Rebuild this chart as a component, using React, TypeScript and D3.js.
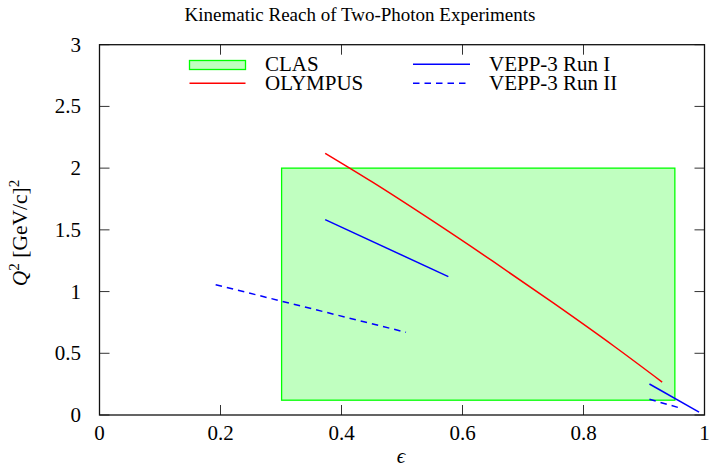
import React from "react";
import * as d3 from "d3";

const xTicks = [0, 0.2, 0.4, 0.6, 0.8, 1];
const yTicks = [0, 0.5, 1, 1.5, 2, 2.5, 3];
const yTickLabels = ["0", "0.5", "1", "1.5", "2", "2.5", "3"];
const xTickLabels = ["0", "0.2", "0.4", "0.6", "0.8", "1"];

// CLAS region: [epsMin, epsMax, q2Min, q2Max]
const clasBox = [0.301, 0.951, 0.12, 2.0];

const olympusEps = [0.373, 0.45, 0.55, 0.65, 0.75, 0.85, 0.93];
const olympusQ2 = [2.12, 1.89, 1.574, 1.246, 0.908, 0.559, 0.267];

const vepp1aEps = [0.373, 0.5766];
const vepp1aQ2 = [1.583, 1.121];
const vepp1bEps = [0.909, 0.991];
const vepp1bQ2 = [0.251, 0.024];

const vepp2aEps = [0.192, 0.5066];
const vepp2aQ2 = [1.056, 0.67];
const vepp2bEps = [0.909, 0.9595];
const vepp2bQ2 = [0.127, 0.057];

const FONT = "Liberation Serif, Times New Roman, serif";

const W = 710;
const H = 469;
const L = 99.5, R = 704.5, T = 44.7, B = 415;

export default function App() {
  const x = d3.scaleLinear().domain([0, 1]).range([L, R]);
  const y = d3.scaleLinear().domain([0, 3]).range([B, T]);
  const line = d3
    .line<[number, number]>()
    .x((d) => x(d[0]))
    .y((d) => y(d[1]));
  const smooth = d3
    .line<[number, number]>()
    .x((d) => x(d[0]))
    .y((d) => y(d[1]))
    .curve(d3.curveMonotoneX);
  const zip = (a: number[], b: number[]) => a.map((v, i) => [v, b[i]] as [number, number]);

  const tickLen = 10;
  const red = "#ff0000";
  const blue = "#0000ff";
  const dash = "6.5,5";

  return (
    <svg
      width={W}
      height={H}
      style={{ position: "absolute", left: 0, top: 0, background: "#fff", fontFamily: FONT }}
    >
      <rect x={0} y={0} width={W} height={H} fill="#fff" />
      {/* Title */}
      <text x={360} y={21} textAnchor="middle" fontSize={19} fontFamily={FONT}>
        Kinematic Reach of Two-Photon Experiments
      </text>

      {/* CLAS box */}
      <rect
        x={x(clasBox[0])}
        y={y(clasBox[3])}
        width={x(clasBox[1]) - x(clasBox[0])}
        height={y(clasBox[2]) - y(clasBox[3])}
        fill="#c0ffc0"
        stroke="#00ff00"
        strokeWidth={1.3}
      />

      {/* Lines */}
      <path d={smooth(zip(olympusEps, olympusQ2)) || ""} fill="none" stroke={red} strokeWidth={1.5} />
      <path d={line(zip(vepp1aEps, vepp1aQ2)) || ""} fill="none" stroke={blue} strokeWidth={1.5} />
      <path d={line(zip(vepp1bEps, vepp1bQ2)) || ""} fill="none" stroke={blue} strokeWidth={1.5} />
      <path d={line(zip(vepp2aEps, vepp2aQ2)) || ""} fill="none" stroke={blue} strokeWidth={1.5} strokeDasharray={dash} />
      <path d={line(zip(vepp2bEps, vepp2bQ2)) || ""} fill="none" stroke={blue} strokeWidth={1.5} strokeDasharray={dash} />

      {/* Ticks */}
      {xTicks.map((t) => (
        <g key={"xt" + t}>
          <line x1={x(t)} x2={x(t)} y1={B} y2={B - tickLen} stroke="#333" strokeWidth={1} />
          <line x1={x(t)} x2={x(t)} y1={T} y2={T + tickLen} stroke="#333" strokeWidth={1} />
        </g>
      ))}
      {yTicks.map((t) => (
        <g key={"yt" + t}>
          <line x1={L} x2={L + tickLen} y1={y(t)} y2={y(t)} stroke="#333" strokeWidth={1} />
          <line x1={R} x2={R - tickLen} y1={y(t)} y2={y(t)} stroke="#333" strokeWidth={1} />
        </g>
      ))}
      {/* Frame */}
      <rect x={L} y={T} width={R - L} height={B - T} fill="none" stroke="#111" strokeWidth={1.3} />

      {/* Tick labels */}
      {xTicks.map((t, i) => (
        <text key={"xl" + t} x={x(t)} y={440} textAnchor="middle" fontSize={21} fontFamily={FONT}>
          {xTickLabels[i]}
        </text>
      ))}
      {yTicks.map((t, i) => (
        <text key={"yl" + t} x={81} y={y(t) + 7} textAnchor="end" fontSize={21} fontFamily={FONT}>
          {yTickLabels[i]}
        </text>
      ))}

      {/* Axis labels */}
      <text x={401} y={463} textAnchor="middle" fontSize={21} fontStyle="italic" fontFamily={FONT}>
        ϵ
      </text>
      <text transform={`translate(27,${233}) rotate(-90)`} textAnchor="middle" fontSize={21.5} fontFamily={FONT}>
        <tspan fontStyle="italic">Q</tspan>
        <tspan fontSize={15} dy={-8}>2</tspan>
        <tspan dy={8}> [GeV/c]</tspan>
        <tspan fontSize={15} dy={-8}>2</tspan>
      </text>

      {/* Legend */}
      <rect x={189.5} y={60.5} width={56} height={9} fill="#c0ffc0" stroke="#00ff00" strokeWidth={1.3} />
      <text x={265} y={71} fontSize={21} fontFamily={FONT}>CLAS</text>
      <line x1={189.5} x2={245.5} y1={83.3} y2={83.3} stroke={red} strokeWidth={1.5} />
      <text x={265} y={90} fontSize={21} fontFamily={FONT}>OLYMPUS</text>
      <line x1={413} x2={470} y1={64.3} y2={64.3} stroke={blue} strokeWidth={1.5} />
      <text x={489} y={71} fontSize={21} fontFamily={FONT}>VEPP-3 Run I</text>
      <line x1={413} x2={470} y1={83.3} y2={83.3} stroke={blue} strokeWidth={1.5} strokeDasharray={dash} />
      <text x={489} y={90} fontSize={21} fontFamily={FONT}>VEPP-3 Run II</text>
    </svg>
  );
}
